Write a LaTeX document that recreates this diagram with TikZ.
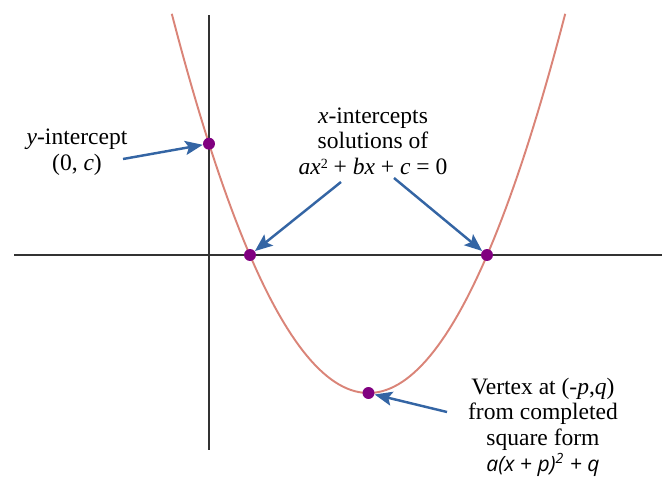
\documentclass[tikz,border=0pt]{standalone}
\usepackage{fontspec}
\setmainfont{Liberation Serif}
\newfontfamily\formfont{Open Sans}
\usepackage{tikz}
\usetikzlibrary{arrows.meta,positioning}
\definecolor{curveC}{RGB}{218,132,120}
\definecolor{dotC}{RGB}{128,0,128}
\definecolor{pointerC}{RGB}{52,101,164}
\definecolor{axisC}{RGB}{51,51,51}

\begin{document}
\begin{tikzpicture}[x=0.02cm,y=-0.02cm,
  axis/.style={draw=axisC,line width=0.85pt},
  curve/.style={draw=curveC,line width=1.1pt},
  dot/.style={circle,fill=dotC,inner sep=0pt,minimum size=6.8pt},
  pointer/.style={draw=pointerC,line width=1.4pt,-{Stealth[length=10pt,width=8pt,inset=2pt]}},
  label/.style={align=center,font=\fontsize{13.4}{14.6}\selectfont,inner sep=0pt}]
  \useasboundingbox (0,0) rectangle (662,478);
  \draw[axis] (14,255) -- (662,255);
  \draw[axis] (209,15) -- (209,450);
  \draw[curve] plot[domain=171.8:565.2,samples=100] (\x,{393-98*((\x-368.5)/100)^2});
  \node[dot] (yint) at (209,143.7) {};
  \node[dot] (rootA) at (250,255) {};
  \node[dot] (rootB) at (487,255) {};
  \node[dot] (vtx) at (368.5,393) {};
  \node[label] (ylab) at (77,152) {\textit{y}-intercept\\(0, \textit{c})};
  \node[label] (xlab) at (373,141) {\textit{x}-intercepts\\solutions of\\\textit{ax}\raisebox{0.55ex}{\fontsize{8}{8}\selectfont 2} + \textit{bx} + \textit{c} = 0};
  \node[label] (vlab) at (543,427) {Vertex at (-\textit{p},\textit{q})\\from completed\\square form\\{\formfont\itshape\fontsize{12}{14.6}\selectfont a(x + p)\textsuperscript{2} + q}};
  \coordinate (ytail) at (123,159);
  \coordinate (xtailA) at (341,182);
  \coordinate (xtailB) at (394,178);
  \coordinate (vtail) at (447,412);
  \draw[pointer] (ytail) -- (yint);
  \draw[pointer] (xtailA) -- (rootA);
  \draw[pointer] (xtailB) -- (rootB);
  \draw[pointer] (vtail) -- (vtx);
\end{tikzpicture}
\end{document}
